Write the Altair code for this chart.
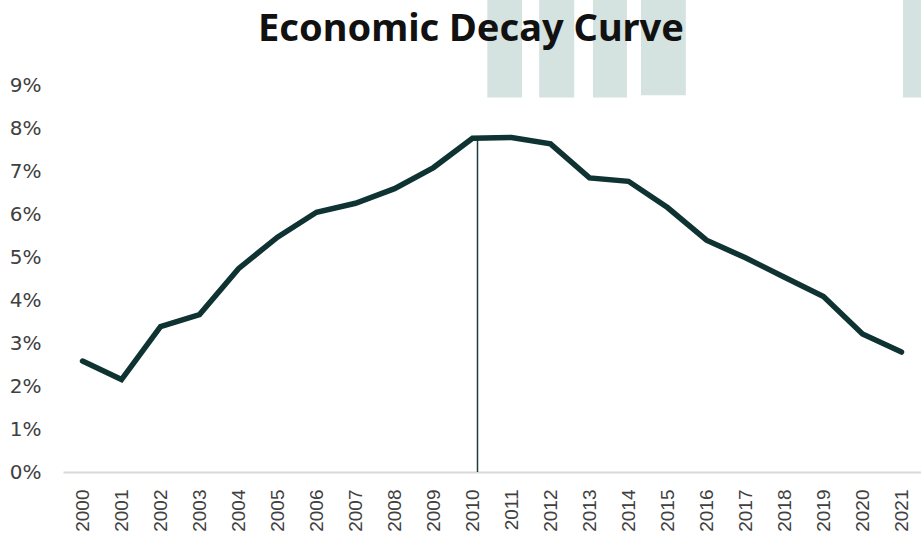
import altair as alt
import pandas as pd

years = list(range(2000, 2022))
rates = [2.58, 2.15, 3.38, 3.66, 4.73, 5.46, 6.04, 6.25, 6.59, 7.08, 7.76, 7.78,
         7.63, 6.84, 6.76, 6.15, 5.39, 4.98, 4.53, 4.08, 3.21, 2.79]

peak_year = [2010]
peak_rate = [7.76]

# decorative header bands (in axis units: years / percent)
band_start = [2010.38, 2011.71, 2013.09, 2014.32, 2021.04]
band_end = [2011.27, 2012.61, 2013.96, 2015.47, 2021.7]
band_bottom = [8.71, 8.71, 8.71, 8.76, 8.71]
band_top = [11.0, 11.0, 11.0, 11.0, 11.0]

df = pd.DataFrame({"year": years, "rate": [r / 100 for r in rates]})
peak = pd.DataFrame({"year": peak_year, "rate": [r / 100 for r in peak_rate]})
bands = pd.DataFrame({
    "x0": band_start, "x1": band_end,
    "y0": [v / 100 for v in band_bottom], "y1": [v / 100 for v in band_top],
})

xscale = alt.Scale(domain=[1999.5, 2021.5], nice=False, zero=False)
yscale = alt.Scale(domain=[0, 0.09], nice=False)

xaxis = alt.Axis(values=years, format="d", labelAngle=-90, labelAlign="right",
                 labelBaseline="middle", labelFont="Liberation Sans", labelFontSize=19,
                 labelColor="#404040", labelPadding=17, ticks=False, grid=False,
                 domain=True, domainColor="#d9d9d9", domainWidth=2, title=None,
                 labelOverlap=False)
yaxis = alt.Axis(values=[i / 100 for i in range(10)], format=".0%", labelFont="DejaVu Sans",
                 labelFontSize=20, labelColor="#404040", labelPadding=22, ticks=False,
                 grid=False, domain=False, title=None)

band_layer = alt.Chart(bands).mark_rect(color="#d4e2e0").encode(
    x=alt.X("x0:Q", scale=xscale, axis=xaxis),
    x2="x1:Q",
    y=alt.Y("y0:Q", scale=yscale, axis=yaxis),
    y2="y1:Q",
)

line = alt.Chart(df).mark_line(color="#0f3232", strokeWidth=5.5, strokeCap="round",
                               strokeJoin="miter").encode(
    x=alt.X("year:Q", scale=xscale, axis=xaxis),
    y=alt.Y("rate:Q", scale=yscale, axis=yaxis),
)

rule = alt.Chart(peak).mark_rule(color="#1d3d3d", strokeWidth=1.5, xOffset=5).encode(
    x=alt.X("year:Q", scale=xscale),
    y=alt.Y("rate:Q", scale=yscale),
    y2=alt.datum(0),
)

chart = alt.layer(band_layer, rule, line).properties(
    width=858,
    height=387,
    background="white",
    autosize=alt.AutoSizeParams(type="none"),
    padding={"left": 63, "top": 85, "right": 0, "bottom": 68},
    title=alt.Title("Economic Decay Curve", font="Noto Sans", fontSize=38,
                    fontWeight="bold", color="#111111", anchor="middle", dx=-21,
                    offset=-50),
).configure_view(stroke="transparent", strokeWidth=0)

chart.save("out.html", embed_options={"renderer": "svg", "actions": False})
